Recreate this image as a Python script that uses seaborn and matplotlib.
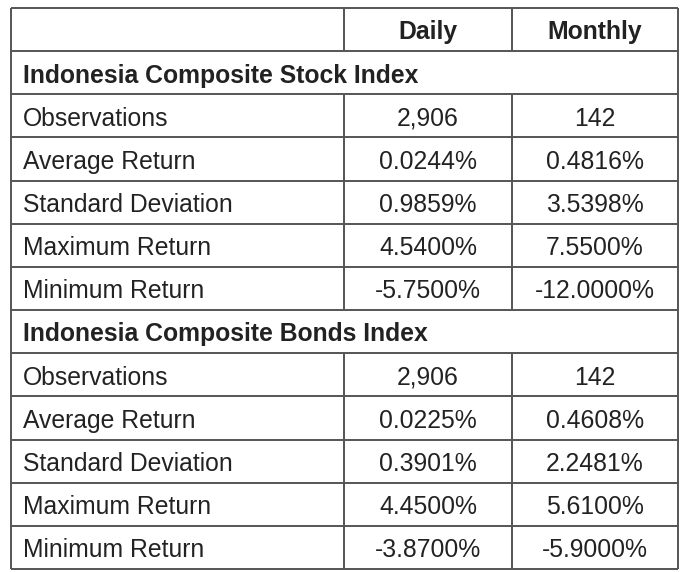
import matplotlib.pyplot as plt
import seaborn as sns

# table content
col_headers = ["Daily", "Monthly"]
sections = ["Indonesia Composite Stock Index", "Indonesia Composite Bonds Index"]
row_labels = ["Observations", "Average Return", "Standard Deviation",
              "Maximum Return", "Minimum Return"]
stock_daily = ["2,906", "0.0244%", "0.9859%", "4.5400%", "-5.7500%"]
stock_monthly = ["142", "0.4816%", "3.5398%", "7.5500%", "-12.0000%"]
bond_daily = ["2,906", "0.0225%", "0.3901%", "4.4500%", "-3.8700%"]
bond_monthly = ["142", "0.4608%", "2.2481%", "5.6100%", "-5.9000%"]

sns.set_style("white")
plt.rcParams["font.family"] = ["Liberation Sans", "DejaVu Sans"]

fig = plt.figure(figsize=(6.98, 5.72), dpi=100)
ax = fig.add_axes([0, 0, 1, 1])
ax.set_xlim(0, 698)
ax.set_ylim(572, 0)
ax.axis("off")

# layout (pixels)
x_edges = [11, 344, 512, 678]
top, bottom = 8, 569
n_rows = 1 + 2 * (1 + len(row_labels))
row_h = (bottom - top) / n_rows
line_c = "#555555"
text_c = "#222222"
fs = 17.8
base_off = 9.8  # baseline below row centre

# build row list: (kind, cells)
rows = [("header", ["", col_headers[0], col_headers[1]])]
for name, d, m in [(sections[0], stock_daily, stock_monthly),
                   (sections[1], bond_daily, bond_monthly)]:
    rows.append(("section", [name]))
    for lab, a, b in zip(row_labels, d, m):
        rows.append(("data", [lab, a, b]))

# horizontal lines
for i in range(n_rows + 1):
    ax.hlines(top + i * row_h, x_edges[0], x_edges[-1], color=line_c, lw=1.4)

for i, (kind, cells) in enumerate(rows):
    y0 = top + i * row_h
    y1 = y0 + row_h
    yb = (y0 + y1) / 2 + base_off
    ax.vlines([x_edges[0], x_edges[-1]], y0, y1, color=line_c, lw=1.4)
    if kind == "section":
        ax.text(x_edges[0] + 12, yb, cells[0], fontsize=fs, fontweight="bold",
                color=text_c, ha="left", va="baseline")
        continue
    ax.vlines(x_edges[1:3], y0, y1, color=line_c, lw=1.4)
    weight = "bold" if kind == "header" else "normal"
    ax.text(x_edges[0] + 12, yb, cells[0], fontsize=fs, color=text_c,
            ha="left", va="baseline")
    for j in (1, 2):
        xc = (x_edges[j] + x_edges[j + 1]) / 2
        ax.text(xc, yb, cells[j], fontsize=fs, fontweight=weight, color=text_c,
                ha="center", va="baseline")

fig.savefig("out.png", dpi=100, facecolor="white")
plt.close(fig)
